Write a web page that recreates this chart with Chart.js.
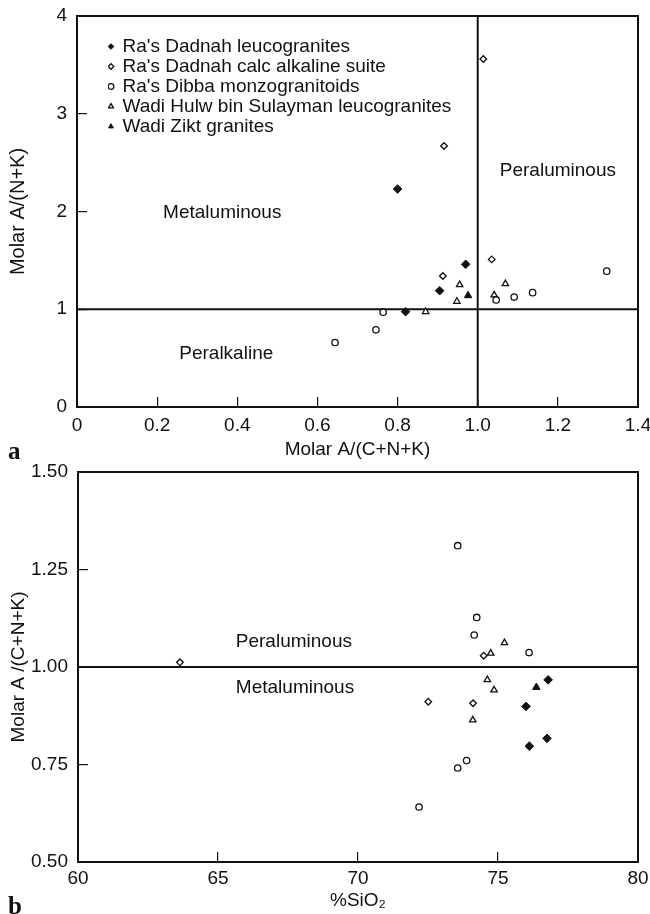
<!DOCTYPE html>
<html>
<head>
<meta charset="utf-8">
<script src="https://cdn.jsdelivr.net/npm/chart.js@4.4.1/dist/chart.umd.min.js"></script>
<style>
  html, body { margin: 0; padding: 0; background: #ffffff; width: 650px; height: 914px; overflow: hidden; }
  #wrapA { position: absolute; left: 0; top: 0; width: 650px; height: 462px; }
  #wrapB { position: absolute; left: 0; top: 462px; width: 650px; height: 452px; }
  .panel { position: absolute; font-family: 'Liberation Serif', 'DejaVu Serif', serif; font-weight: bold; font-size: 25px; line-height: 25px; color: #111; }
</style>
</head>
<body>
<div id="wrapA"><canvas id="chartA" width="650" height="462"></canvas></div>
<div id="wrapB"><canvas id="chartB" width="650" height="452"></canvas></div>
<div class="panel" style="left:8px; top:438px;">a</div>
<div class="panel" style="left:8px; top:893px;">b</div>
<script>
// ---------- Data ----------
const seriesNames = [
  "Ra's Dadnah leucogranites",
  "Ra's Dadnah calc alkaline suite",
  "Ra's Dibba monzogranitoids",
  "Wadi Hulw bin Sulayman leucogranites",
  "Wadi Zikt granites"
];

// Panel a: Molar A/(C+N+K) (x) vs Molar A/(N+K) (y)
const dadnahLeucoACNK = [0.80, 0.97, 0.905, 0.82];
const dadnahLeucoANK  = [2.23, 1.46, 1.19, 0.975];
const dadnahCalcACNK  = [1.014, 0.916, 0.913, 1.035];
const dadnahCalcANK   = [3.56, 2.67, 1.34, 1.51];
const dibbaACNK       = [0.644, 0.746, 0.764, 1.046, 1.091, 1.137, 1.322];
const dibbaANK        = [0.66, 0.79, 0.97, 1.095, 1.125, 1.17, 1.39];
const hulwACNK        = [0.955, 0.948, 0.87, 1.069, 1.041];
const hulwANK         = [1.25, 1.08, 0.975, 1.26, 1.145];
const ziktACNK        = [0.976];
const ziktANK         = [1.14];

// Panel b: %SiO2 (x) vs Molar A/(C+N+K) (y)
const dadnahLeucoSiO2 = [76.79, 76.0, 76.75, 76.12];
const dadnahLeucoACNKb = [0.967, 0.899, 0.817, 0.797];
const dadnahCalcSiO2  = [63.64, 74.49, 72.51, 74.11];
const dadnahCalcACNKb = [1.012, 1.029, 0.911, 0.907];
const dibbaSiO2       = [73.56, 74.24, 74.15, 76.11, 73.88, 73.56, 72.18];
const dibbaACNKb      = [1.311, 1.127, 1.082, 1.037, 0.76, 0.741, 0.641];
const hulwSiO2        = [75.23, 74.74, 74.62, 74.86, 74.1];
const hulwACNKb       = [1.062, 1.035, 0.967, 0.941, 0.864];
const ziktSiO2        = [76.37];
const ziktACNKb       = [0.948];

// Axis ticks
const xTickValsA = [0, 0.2, 0.4, 0.6, 0.8, 1.0, 1.2, 1.4];
const xTickLabelsA = ['0', '0.2', '0.4', '0.6', '0.8', '1.0', '1.2', '1.4'];
const yTickValsA = [0, 1, 2, 3, 4];
const yTickLabelsA = ['0', '1', '2', '3', '4'];
const xTickValsB = [60, 65, 70, 75, 80];
const xTickLabelsB = ['60', '65', '70', '75', '80'];
const yTickValsB = [0.5, 0.75, 1.0, 1.25, 1.5];
const yTickLabelsB = ['0.50', '0.75', '1.00', '1.25', '1.50'];

// Boundaries
const boundaryACNK = 1.0;
const boundaryANK = 1.0;

// Region labels
const regionNamesA = ['Metaluminous', 'Peralkaline', 'Peraluminous'];
const regionNamesB = ['Peraluminous', 'Metaluminous'];

// ---------- Helpers ----------
const FONT = "'Liberation Sans', Arial, Helvetica, sans-serif";
const INK = '#111111';
const zip = (xs, ys) => xs.map((v, i) => ({ x: v, y: ys[i] }));

const markerStyles = [
  { pointStyle: 'rectRot', pointRadius: 4.3, backgroundColor: INK, borderColor: INK, borderWidth: 1 },
  { pointStyle: 'rectRot', pointRadius: 3.3, backgroundColor: '#ffffff', borderColor: INK, borderWidth: 1.3 },
  { pointStyle: 'circle', pointRadius: 3.2, backgroundColor: '#ffffff', borderColor: INK, borderWidth: 1.3 },
  { pointStyle: 'triangle', pointRadius: 3.7, backgroundColor: '#ffffff', borderColor: INK, borderWidth: 1.3 },
  { pointStyle: 'triangle', pointRadius: 4.3, backgroundColor: INK, borderColor: INK, borderWidth: 1 }
];

function seriesDatasets(pairs) {
  return pairs.map((d, i) => Object.assign({
    label: seriesNames[i],
    data: d,
    showLine: false,
    order: 1,
    pointHoverRadius: markerStyles[i].pointRadius
  }, markerStyles[i]));
}

function lineDataset(points) {
  return {
    label: '__boundary',
    type: 'line',
    data: points,
    showLine: true,
    borderColor: INK,
    borderWidth: 2,
    pointRadius: 0,
    fill: false,
    tension: 0,
    order: 2
  };
}

const frameAndLabels = {
  id: 'frameAndLabels',
  beforeDatasetsDraw(chart) {
    const { ctx, chartArea: a } = chart;
    ctx.save();
    ctx.strokeStyle = INK;
    ctx.lineWidth = 2;
    ctx.strokeRect(a.left, a.top, a.right - a.left, a.bottom - a.top);
    ctx.restore();
  },
  afterDatasetsDraw(chart, args, opts) {
    const { ctx, scales } = chart;
    ctx.save();
    ctx.fillStyle = INK;
    ctx.font = opts.font;
    ctx.textAlign = 'center';
    ctx.textBaseline = 'middle';
    (opts.labels || []).forEach(l => {
      ctx.fillText(l.text, scales.x.getPixelForValue(l.x), scales.y.getPixelForValue(l.y));
    });
    ctx.restore();
  }
};

// Places the built-in legend inside the plot area at a fixed offset from its top-left corner
const legendShift = {
  id: 'legendShift',
  beforeDraw(chart, args, opts) {
    const lg = chart.legend;
    const a = chart.chartArea;
    if (!lg || !opts || !opts.enabled) return;
    const w = a.right - a.left, h = a.bottom - a.top;
    lg.left = a.left + opts.dx; lg.right = lg.left + w;
    lg.top = a.top + opts.dy; lg.bottom = lg.top + h;
  }
};

function axis(opts) {
  return {
    type: 'linear',
    min: opts.min, max: opts.max,
    afterBuildTicks: s => { s.ticks = opts.vals.map(v => ({ value: v })); },
    afterFit: s => {
      if (opts.width !== undefined) s.width = opts.width;
      if (opts.height !== undefined) s.height = opts.height;
      s.paddingLeft = 0; s.paddingRight = 0; s.paddingTop = 0; s.paddingBottom = 0;
    },
    ticks: {
      autoSkip: false, maxRotation: 0, minRotation: 0,
      color: INK, font: { family: FONT, size: 19 },
      padding: opts.tickPad,
      callback: (v, i) => opts.labels[i]
    },
    grid: { display: true, drawOnChartArea: false, drawTicks: true, tickLength: -10, color: INK, lineWidth: 1.2 },
    border: { display: true, color: INK, width: 2 },
    title: { display: true, text: opts.title, color: INK, font: { family: FONT, size: opts.titleSize || 19 }, padding: opts.titlePad }
  };
}

Chart.defaults.animation = false;

// ---------- Chart a ----------
new Chart(document.getElementById('chartA'), {
  type: 'scatter',
  data: {
    datasets: seriesDatasets([
      zip(dadnahLeucoACNK, dadnahLeucoANK),
      zip(dadnahCalcACNK, dadnahCalcANK),
      zip(dibbaACNK, dibbaANK),
      zip(hulwACNK, hulwANK),
      zip(ziktACNK, ziktANK)
    ]).concat([
      lineDataset([{ x: xTickValsA[0], y: boundaryANK }, { x: xTickValsA[xTickValsA.length - 1], y: boundaryANK }]),
      lineDataset([{ x: boundaryACNK, y: yTickValsA[0] }, { x: boundaryACNK, y: yTickValsA[yTickValsA.length - 1] }])
    ])
  },
  options: {
    responsive: false,
    devicePixelRatio: 1,
    animation: false,
    layout: { padding: { top: 16, right: 12, left: 0, bottom: 0 } },
    scales: {
      x: axis({ min: 0, max: 1.4, vals: xTickValsA, labels: xTickLabelsA, height: 55, tickPad: 17,
                title: 'Molar A/(C+N+K)', titlePad: { top: 0, bottom: 1 } }),
      y: axis({ min: 0, max: 4, vals: yTickValsA, labels: yTickLabelsA, width: 77, tickPad: 20,
                title: 'Molar A/(N+K)', titleSize: 20, titlePad: { top: 6, bottom: 0 } })
    },
    plugins: {
      tooltip: { enabled: false },
      legend: {
        display: true,
        position: 'chartArea',
        align: 'start',
        labels: {
          usePointStyle: true,
          boxWidth: 4, boxHeight: 4,
          padding: 1,
          color: INK,
          font: { family: FONT, size: 19 },
          filter: item => item.text !== '__boundary'
        }
      },
      legendShift: { enabled: true, dx: 31, dy: 20 },
      frameAndLabels: {
        font: "19px " + FONT,
        labels: [
          { text: regionNamesA[0], x: 0.3625, y: 1.985 },
          { text: regionNamesA[1], x: 0.3725, y: 0.542 },
          { text: regionNamesA[2], x: 1.20, y: 2.42 }
        ]
      }
    }
  },
  plugins: [frameAndLabels, legendShift]
});

// ---------- Chart b ----------
new Chart(document.getElementById('chartB'), {
  type: 'scatter',
  data: {
    datasets: seriesDatasets([
      zip(dadnahLeucoSiO2, dadnahLeucoACNKb),
      zip(dadnahCalcSiO2, dadnahCalcACNKb),
      zip(dibbaSiO2, dibbaACNKb),
      zip(hulwSiO2, hulwACNKb),
      zip(ziktSiO2, ziktACNKb)
    ]).concat([
      lineDataset([{ x: xTickValsB[0], y: boundaryACNK }, { x: xTickValsB[xTickValsB.length - 1], y: boundaryACNK }])
    ])
  },
  options: {
    responsive: false,
    devicePixelRatio: 1,
    animation: false,
    layout: { padding: { top: 10, right: 12, left: 0, bottom: 0 } },
    scales: {
      x: axis({ min: 60, max: 80, vals: xTickValsB, labels: xTickLabelsB, height: 52, tickPad: 15,
                title: '%SiO\u2082', titlePad: { top: 0, bottom: 2 } }),
      y: axis({ min: 0.5, max: 1.5, vals: yTickValsB, labels: yTickLabelsB, width: 78, tickPad: 20,
                title: 'Molar A /(C+N+K)', titlePad: { top: 7, bottom: 0 } })
    },
    plugins: {
      tooltip: { enabled: false },
      legend: { display: false },
      frameAndLabels: {
        font: "19px " + FONT,
        labels: [
          { text: regionNamesB[0], x: 67.71, y: 1.065 },
          { text: regionNamesB[1], x: 67.75, y: 0.947 }
        ]
      }
    }
  },
  plugins: [frameAndLabels]
});
</script>
</body>
</html>
